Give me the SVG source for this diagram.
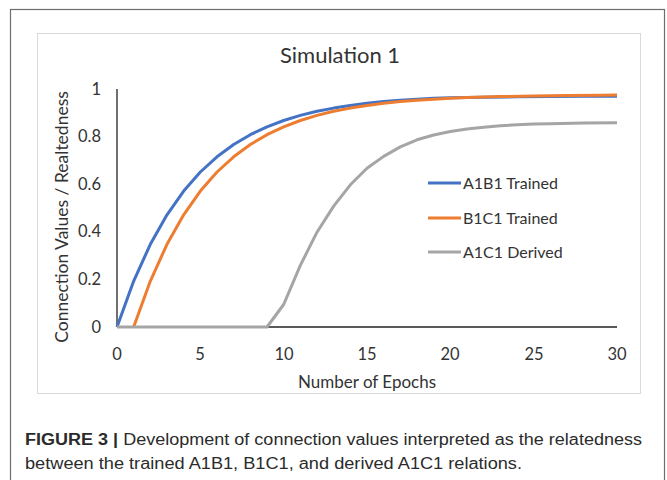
<svg xmlns="http://www.w3.org/2000/svg" width="667" height="480" viewBox="0 0 667 480">
<style>
.ct{font-family:Lato,"Open Sans","Liberation Sans",sans-serif;fill:#333333}
.tick{font-size:16.5px}
.ser{fill:none;stroke-width:3;stroke-linejoin:round;stroke-linecap:butt}
.blue{stroke:#4472C4}
.orange{stroke:#ED7D31}
.gray{stroke:#A5A5A5}
.leg{font-size:16px}
.cap{font-family:"Liberation Sans",Arial,sans-serif;font-size:16px;fill:#2b2b2b}
</style>
<rect x="0" y="0" width="667" height="480" fill="#ffffff"/>
<g id="outer-frame">
<rect x="10.5" y="9.5" width="654" height="480" fill="#ffffff" stroke="#6d6d6d" stroke-width="1.2"/>
</g>
<g id="chart-area">
<rect x="37.5" y="33.5" width="603" height="360" fill="#ffffff" stroke="#d9d9d9" stroke-width="1"/>
</g>
<g id="title">
<text class="ct" x="340" y="63" font-size="22" text-anchor="middle">Simulation 1</text>
</g>
<g id="axes">
<line x1="117" y1="89" x2="117" y2="327" stroke="#404040" stroke-width="1.5"/>
<line x1="117" y1="327" x2="617" y2="327" stroke="#595959" stroke-width="2"/>
<g class="ct tick" text-anchor="end">
<text x="101" y="95">1</text>
<text x="101" y="142">0.8</text>
<text x="101" y="190">0.6</text>
<text x="101" y="237">0.4</text>
<text x="101" y="285">0.2</text>
<text x="101" y="333">0</text>
</g>
<g class="ct tick" text-anchor="middle">
<text x="117" y="360">0</text>
<text x="200" y="360">5</text>
<text x="284" y="360">10</text>
<text x="367" y="360">15</text>
<text x="450" y="360">20</text>
<text x="534" y="360">25</text>
<text x="617" y="360">30</text>
</g>
<text class="ct" x="367" y="388" font-size="17" text-anchor="middle">Number of Epochs</text>
<text class="ct" transform="translate(68,217) rotate(-90)" font-size="17.5" text-anchor="middle">Connection Values / Realtedness</text>
</g>
<g id="series">
<polyline id="A1B1" class="ser blue" points="117,327 133.67,281.1 150.33,244.3 167,214.8 183.67,191.1 200.33,172 217,156.8 233.67,144.5 250.33,134.7 267,126.8 283.67,120.5 300.33,115.4 317,111.3 333.67,108.1 350.33,105.4 367,103.3 383.67,101.6 400.33,100.3 417,99.2 433.67,98.3 450.33,97.8 483.67,97.2 517,96.8 550.33,96.5 583.67,96.3 617,96.2"/>
<polyline id="B1C1" class="ser orange" points="133.67,327 150.33,281.1 167,244.3 183.67,214.8 200.33,191.1 217,172 233.67,156.8 250.33,144.5 267,134.7 283.67,126.8 300.33,120.5 317,115.4 333.67,111.3 350.33,108.1 367,105.4 383.67,103.3 400.33,101.6 417,100.3 433.67,99.2 450.33,98.3 467,97.6 500.33,96.6 533.67,96 567,95.5 600.33,95.2 617,95.1"/>
<polyline id="A1C1" class="ser gray" points="117,327 267,327 283.67,304.5 300.33,265.4 317,232.2 333.67,206.1 350.33,184.8 367,168.2 383.67,156.4 400.33,146.9 417,139.8 433.67,135 450.33,131.5 467,129.1 483.67,127.2 500.33,125.8 517,124.8 533.67,124.1 550.33,123.7 583.67,123 617,122.7"/>
</g>
<g id="legend">
<line class="ser blue" x1="428" y1="183" x2="461" y2="183"/>
<text class="ct leg" x="463" y="189">A1B1 Trained</text>
<line class="ser orange" x1="428" y1="218" x2="461" y2="218"/>
<text class="ct leg" x="463" y="224">B1C1 Trained</text>
<line class="ser gray" x1="428" y1="252" x2="461" y2="252"/>
<text class="ct leg" x="463" y="258">A1C1 Derived</text>
</g>
<g id="caption">
<text class="cap" x="25" y="445" textLength="617" lengthAdjust="spacingAndGlyphs"><tspan font-weight="bold">FIGURE 3 |</tspan> Development of connection values interpreted as the relatedness</text>
<text class="cap" x="25" y="469" textLength="497" lengthAdjust="spacingAndGlyphs">between the trained A1B1, B1C1, and derived A1C1 relations.</text>
</g>
</svg>
